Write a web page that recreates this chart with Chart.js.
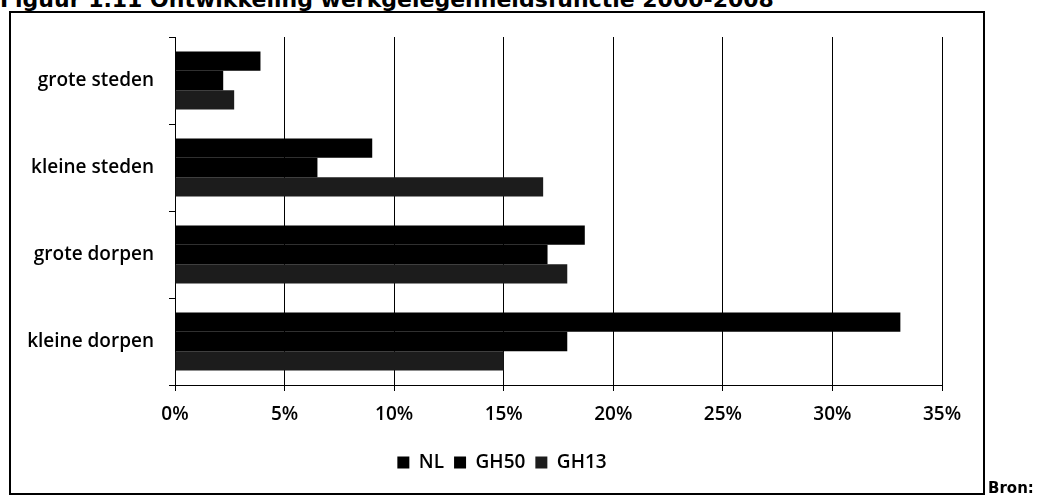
<!DOCTYPE html>
<html>
<head>
<meta charset="utf-8">
<script src="https://cdn.jsdelivr.net/npm/chart.js@4.4.0/dist/chart.umd.min.js"></script>
<style>
  html, body { margin:0; padding:0; background:#fff; }
  #wrap { position:relative; width:1045px; height:496px; overflow:hidden; }
  #kop { position:absolute; left:0; top:-11px; font-family:"DejaVu Sans"; font-weight:bold; font-size:22px; line-height:22px; white-space:nowrap; color:#000; }
  #kader { position:absolute; left:9px; top:11px; width:976px; height:484px; border:2px solid #000; box-sizing:border-box; }
  #bron { position:absolute; left:988px; top:481px; font-family:"DejaVu Sans"; font-weight:bold; font-size:15px; line-height:15px; color:#000; }
  #mycanvas { position:absolute; left:0; top:0; }
</style>
</head>
<body>
<div id="wrap">
  <div id="kop">Figuur 1.11 Ontwikkeling werkgelegenheidsfunctie 2000-2008</div>
  <div id="kader"></div>
  <canvas id="mycanvas" width="1045" height="496"></canvas>
  <div id="bron">Bron:</div>
</div>
<script>
// gebieden (van boven naar beneden)
var gebieden = ['grote steden', 'kleine steden', 'grote dorpen', 'kleine dorpen'];
var nl   = [3.9, 9.0, 18.7, 33.1];
var gh50 = [2.2, 6.5, 17.0, 17.9];
var gh13 = [2.7, 16.8, 17.9, 15.0];
var reeksen = ['NL', 'GH50', 'GH13'];
var xTicks = [0, 5, 10, 15, 20, 25, 30, 35];

var fontje = { family: '"Open Sans"', size: 19, weight: '600' };

// legenda iets naar rechts, zoals in het origineel
var legendaSchuif = {
  id: 'legendaSchuif',
  afterLayout: function(chart) {
    if (chart.legend) { chart.legend.left = chart.legend.left + 62; }
  }
};

var chartdata = {
  labels: gebieden,
  datasets: [
    { label: reeksen[0], data: nl,   backgroundColor: '#000', borderWidth: 0 },
    { label: reeksen[1], data: gh50, backgroundColor: '#000', borderWidth: 0 },
    { label: reeksen[2], data: gh13, backgroundColor: '#1c1c1c', borderWidth: 0 }
  ]
};

var ctx = document.getElementById('mycanvas');
var barGraph = new Chart(ctx, {
  type: 'bar',
  data: chartdata,
  plugins: [legendaSchuif],
  options: {
    indexAxis: 'y',
    responsive: false,
    animation: false,
    devicePixelRatio: 1,
    layout: { padding: { top: 37, right: 103, bottom: 14, left: 0 } },
    datasets: { bar: { categoryPercentage: 0.667, barPercentage: 1.0 } },
    scales: {
      x: {
        min: xTicks[0],
        max: xTicks[xTicks.length - 1],
        afterBuildTicks: function(scale) {
          scale.ticks = xTicks.map(function(v){ return { value: v }; });
        },
        afterFit: function(scale) { scale.height = 58; },
        grid: { color: '#000', lineWidth: 1, drawTicks: true, tickLength: 6, tickColor: '#000' },
        border: { color: '#000', width: 1 },
        ticks: {
          color: '#000',
          font: fontje,
          padding: 12,
          callback: function(v) { return v + '%'; }
        }
      },
      y: {
        afterFit: function(scale) { scale.width = 175; },
        grid: { drawOnChartArea: false, drawTicks: true, tickLength: 6, color: '#000', offset: true },
        border: { color: '#000', width: 1 },
        ticks: { color: '#000', font: fontje, padding: 15 }
      }
    },
    plugins: {
      legend: {
        position: 'bottom',
        labels: {
          color: '#000',
          font: fontje,
          boxWidth: 12,
          boxHeight: 12,
          padding: 10
        }
      },
      tooltip: { enabled: false }
    }
  }
});
</script>
</body>
</html>
